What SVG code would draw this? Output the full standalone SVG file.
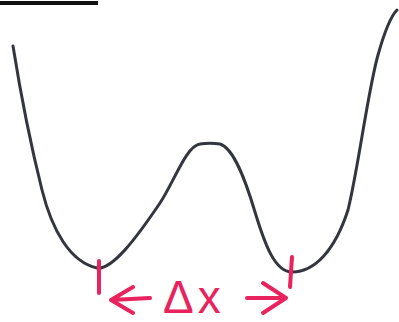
<svg xmlns="http://www.w3.org/2000/svg" width="399" height="322" viewBox="0 0 399 322">
<style>
.curve{fill:none;stroke:#33363f;stroke-width:3;stroke-linecap:round;stroke-linejoin:round}
.pink{fill:none;stroke:#e8235e;stroke-width:4;stroke-linecap:round;stroke-linejoin:round}
.lbl{fill:#e8235e;font-family:"Liberation Sans",Arial,sans-serif;font-size:46px}
</style>
<rect width="399" height="322" fill="#ffffff"/>
<g id="topline">
<path d="M0,3 L98,3" fill="none" stroke="#111111" stroke-width="4"/>
</g>
<g id="well">
<path class="curve" d="M13,46 C20,90 32,150 42,190 C52,230 70,262 97,268 C112,270 135,240 160,203 C174,182 186,146 200,144 C206,143 214,143 220,144 C234,148 246,182 255,212 C265,245 275,272 292,272 C315,272 335,250 348,210 C358,170 368,90 378,55 C385,30 392,15 397,10"/>
</g>
<g id="markers">
<path class="pink" d="M99,261 L99,293" stroke-width="5"/>
<path class="pink" d="M292,257 L290,287" stroke-width="5"/>
</g>
<g id="connectors">
<path class="pink" d="M150,298 L111,300 M133,287 L111,300 L133,313"/>
<path class="pink" d="M247,298 L286,298 M263,283 L286,298 L263,313"/>
</g>
<g id="label">
<text class="lbl" x="163" y="313" letter-spacing="4">Δx</text>
</g>
</svg>
